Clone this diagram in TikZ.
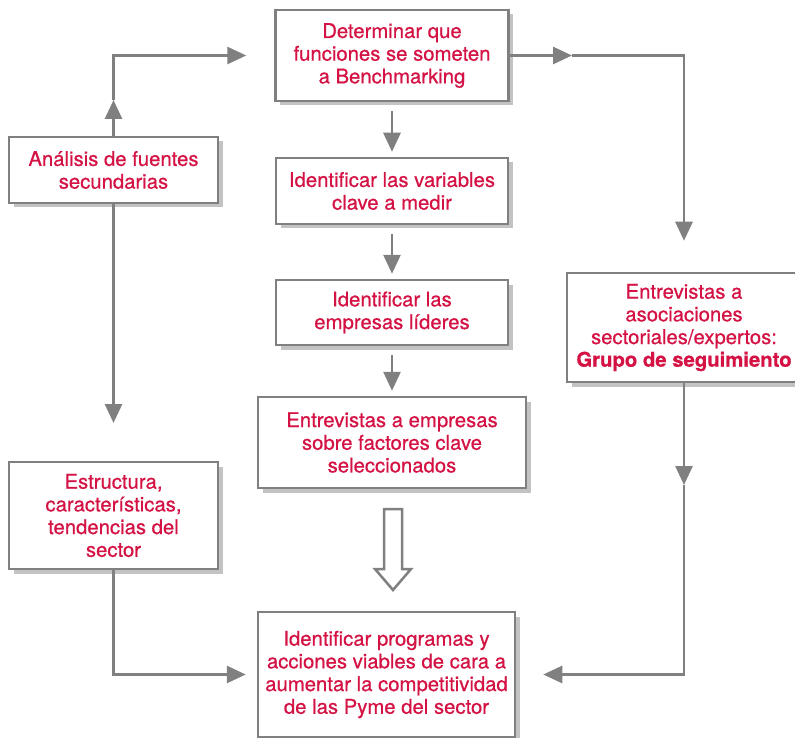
\documentclass[tikz,border=0pt]{standalone}
\usepackage{fontspec}
\setmainfont{TeX Gyre Heros}[FakeBold=0.6]
\usetikzlibrary{arrows.meta,shadows}
\definecolor{txt}{RGB}{212,18,68}
\definecolor{ln}{RGB}{128,128,128}
\definecolor{shd}{RGB}{195,195,195}
\begin{document}
\begin{tikzpicture}[x=1pt,y=-1pt,
  box/.style={draw=ln, line width=2.5pt, fill=white, align=center, text=txt,
    font=\fontsize{20.3}{22.7}\selectfont, inner sep=0pt,
    general shadow={fill=shd, shadow xshift=4.5pt, shadow yshift=-4.5pt}},
  conn/.style={draw=ln, line width=2.8pt},
  arr/.style={conn, -{Triangle[length=19pt,width=17pt]}},
  hollow/.style={draw=ln, line width=2.5pt, fill=white, line join=miter}
]
\useasboundingbox (0,0) rectangle (795,738);

% boxes
\node[box, minimum width=233pt, minimum height=91pt] (top) at (392,55.5)
  {Determinar que\\funciones se someten\\a Benchmarking};
\node[box, minimum width=232pt, minimum height=66pt] (var) at (392,191)
  {Identificar las variables\\clave a medir};
\node[box, minimum width=232pt, minimum height=65pt] (emp) at (392,312.5)
  {Identificar las\\empresas l\'ideres};
\node[box, minimum width=268pt, minimum height=91pt] (entr) at (392,442.5)
  {Entrevistas a empresas\\sobre factores clave\\seleccionados};
\node[box, minimum width=257pt, minimum height=125pt] (prog) at (386.5,674.5)
  {Identificar programas y\\acciones viables de cara a\\aumentar la competitividad\\de las Pyme del sector};
\node[box, minimum width=209pt, minimum height=66pt] (anal) at (113.5,170)
  {An\'alisis de fuentes\\secundarias};
\node[box, minimum width=209pt, minimum height=107pt] (estr) at (113.5,515.5)
  {Estructura,\\caracter\'isticas,\\tendencias del\\sector};
\node[box, minimum width=234pt, minimum height=109pt] (asoc) at (684,327.5)
  {Entrevistas a\\asociaciones\\sectoriales/expertos:\\\textbf{Grupo de seguimiento}};

% helper coordinates
\coordinate (a1) at (113.5,100);
\coordinate (a2) at (113.5,423);
\coordinate (r1) at (572,55.5);
\coordinate (r2) at (684,485);

% left column connectors
\draw[arr] (anal.north) -- (a1);
\draw[arr, shorten >=28pt] (a1) |- (top.west);
\draw[arr] (anal.south) -- (a2);
\draw[arr, shorten >=11pt] (estr.south) |- (prog.west);

% right column connectors
\draw[arr] (top.east) -- (r1);
\draw[arr, shorten >=31pt] (r1) -| (asoc.north);
\draw[arr] (asoc.south) -- (r2);
\draw[arr, shorten >=27pt] (r2) |- (prog.east);

% centre column connectors
\draw[arr, shorten <=9pt, shorten >=5pt] (top.south) -- (var.north);
\draw[arr, shorten <=9pt, shorten >=5pt] (var.south) -- (emp.north);
\draw[arr, shorten <=9pt, shorten >=5pt] (emp.south) -- (entr.north);

% hollow block arrow
\draw[hollow] (384,509) -- (402,509) -- (402,569) -- (411,569) -- (393,590)
  -- (375,569) -- (384,569) -- cycle;
\end{tikzpicture}
\end{document}
